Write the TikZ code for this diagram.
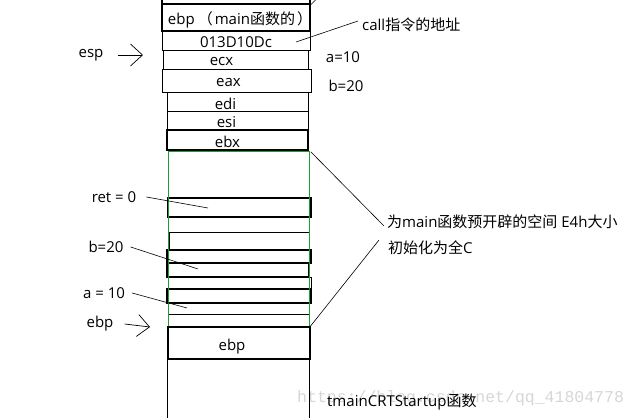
\documentclass[tikz,border=0pt]{standalone}
\usepackage{fontspec}
\setmainfont{Open Sans}
\newfontfamily\cjk{Noto Sans CJK SC}
\newfontfamily\wmfont{Liberation Mono}
\usetikzlibrary{
  arrows.meta,
  positioning,
  fit,
  backgrounds
}
\definecolor{framegreen}{HTML}{1E9E32}
\definecolor{wmgray}{HTML}{D6D6D6}

\begin{document}
\begin{tikzpicture}[
    x=1pt, y=-1pt, % pixel grid of the sketch
    every node/.style={font=\fontsize{15}{17}\selectfont, inner sep=0pt},
    every label/.style={yshift=-2pt},
    slot/.style={draw, line width=0.9pt, fit={#1}},
    thickslot/.style={line width=1.5pt},
    leader/.style={line width=0.6pt},
    ptr/.style={-{Straight Barb[length=12pt, width=22pt]}, line width=0.7pt},
  ]
  \useasboundingbox (0,0) rectangle (638,418);
  \clip (0,0) rectangle (638,418);

  % --- Watermark ---
  \begin{scope}[on background layer]
    \node[font=\wmfont\fontsize{16.5}{18}\selectfont, text=wmgray, anchor=west]
      (watermark) at (297,398) {https://blog.csdn.net/qq\_41804778};
  \end{scope}

  % --- Stack: main frame header ---
  \node[slot={(162,-12) (310,4)}, thickslot] (prevslot) {};
  \node[slot={(162,4) (310,31)}, thickslot,
    label={[xshift=4pt]center:ebp\hspace{3pt}{\cjk （}\hspace{2pt}main{\cjk 函数的}\hspace{2pt}{\cjk ）}}] (ebpmain) {};
  \node[slot={(162,31) (310,50)}, label={center:013D10Dc}] (retaddr) {};
  \node[slot={(163,50) (308,69)}, label={[xshift=-14pt]center:ecx}] (ecx) {};
  \node[slot={(162,69) (311,92)}, label={[xshift=-8pt]center:eax}] (eax) {};
  \node[slot={(167,92) (308,111)}, label={[xshift=-12pt]center:edi}] (edi) {};
  \node[slot={(167,111) (308,130)}, label={[xshift=-11pt]center:esi}] (esi) {};
  \node[slot={(167,130) (308,150)}, thickslot, label={[xshift=-10pt]center:ebx}] (ebx) {};

  % --- Local variable area (E4h) ---
  \node[slot={(168,198) (311,217)}, thickslot] (retvar) {};
  \node[slot={(169,232) (309,250)}] (slotA) {};
  \node[slot={(167,250) (311,263)}, thickslot] (bvar) {};
  \node[slot={(167,263) (309,277)}, thickslot] (slotB) {};
  \node[slot={(168,277) (311,289)}] (slotC) {};
  \node[slot={(167,289) (311,303)}, thickslot] (avar) {};
  \node[slot={(168,303) (309,314)}] (slotD) {};
  \node[slot={(168,314) (309,327)}] (slotE) {};
  \node[slot={(168,151) (309,327)}, draw=framegreen, line width=0.9pt] (locals) {};

  % --- Caller frame ---
  \node[slot={(168,327) (310,359)}, thickslot,
    label={[xshift=-7pt, yshift=-2pt]center:ebp}] (callerebp) {};
  \draw[line width=0.9pt] (callerebp.south west) -- ++(0,70);
  \draw[line width=0.9pt] ([xshift=-1pt]callerebp.south east) -- ++(0,70);

  % --- Left labels ---
  \node (esplbl) at (91,55) {esp};
  \node (retlbl) at (114,197) {ret = 0};
  \node (blbl) at (106,247) {b=20};
  \node (albl) at (104,293) {a = 10};
  \node (ebplbl) at (100,324) {ebp};

  \coordinate (esppt) at (143,55);
  \coordinate (ebppt) at (150,327);
  \coordinate (retpt) at (208,208);
  \coordinate (bpt) at (198,269);
  \coordinate (apt) at (187,308);

  \draw[ptr] ([xshift=14pt]esplbl.east) -- (esppt);
  \draw[ptr] ([xshift=11pt]ebplbl.east) -- (ebppt);
  \draw[leader] ([xshift=10pt]retlbl.east) -- (retpt);
  \draw[leader] ([xshift=7pt]blbl.east) -- (bpt);
  \draw[leader] ([xshift=7pt]albl.east) -- (apt);

  % --- Right notes ---
  \node[anchor=west] (callnote) at (362,25) {call{\cjk 指令的地址}};
  \node (avalue) at (343,57) {a=10};
  \node (bvalue) at (346,86) {b=20};
  \node[anchor=west] (spacenote) at (387,222)
    {{\cjk 为}main{\cjk 函数预开辟的空间} E4h{\cjk 大小}};
  \node[anchor=west] (initnote) at (388,248) {{\cjk 初始化为全}C};
  \node[anchor=west] (startnote) at (327,402) {tmainCRTStartup{\cjk 函数}};

  \coordinate (callpt) at (296,42);
  \draw[leader] (callnote.west) ++(-4,-4) -- (callpt);
  \draw[leader] (prevslot.south east) -- ++(7,-7);
  \draw[leader] (ebx.south east) ++(2,1) -- ([xshift=-3pt, yshift=-4pt]spacenote.west);
  \draw[leader] ([xshift=-9pt, yshift=8pt]initnote.west) -- (locals.south east);
\end{tikzpicture}
\end{document}
